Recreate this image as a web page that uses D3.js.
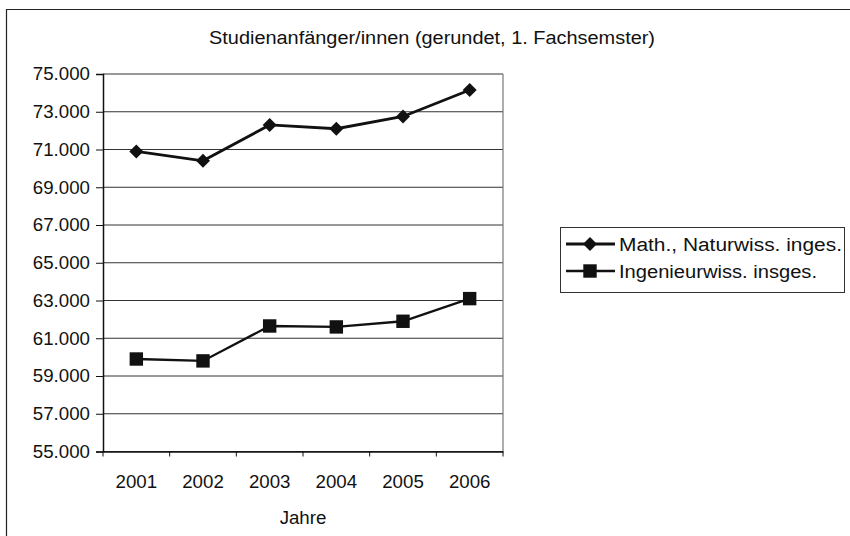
<!DOCTYPE html>
<html lang="de">
<head>
<meta charset="utf-8">
<title>Studienanfänger/innen</title>
<script src="https://cdn.jsdelivr.net/npm/d3@7"></script>
<style>
  body { margin: 0; background: #fff; }
  text { font-family: "Liberation Sans", Arial, sans-serif; fill: #111; }
</style>
</head>
<body>
<script>
// data
var years = ["2001", "2002", "2003", "2004", "2005", "2006"];
var mathNat = [70900, 70400, 72300, 72100, 72750, 74150];
var ingenieur = [59900, 59800, 61650, 61600, 61900, 63100];
var seriesNames = ["Math., Naturwiss. inges.", "Ingenieurwiss. insges."];
var yTicks = [55000, 57000, 59000, 61000, 63000, 65000, 67000, 69000, 71000, 73000, 75000];

var width = 850, height = 536;
var plot = { left: 103, right: 503, top: 74, bottom: 451.5 };
var fontSize = "18.7px";

var svg = d3.select("body").append("svg")
    .attr("width", width)
    .attr("height", height);

svg.append("rect")
    .attr("width", width).attr("height", height)
    .attr("fill", "#fff");

// outer frame (runs off the right and bottom edges)
svg.append("path")
    .attr("d", "M6.5," + (height + 2) + "V9.5H" + (width + 2))
    .attr("fill", "none")
    .attr("stroke", "#222")
    .attr("stroke-width", 1.2);

svg.append("text")
    .attr("x", 432)
    .attr("y", 44)
    .attr("text-anchor", "middle")
    .attr("textLength", 446)
    .attr("lengthAdjust", "spacingAndGlyphs")
    .style("font-size", "18px")
    .text("Studienanfänger/innen (gerundet, 1. Fachsemster)");

var x = d3.scaleBand().domain(years).range([plot.left, plot.right]);
var y = d3.scaleLinear().domain([55000, 75000]).range([plot.bottom, plot.top]);

var fmt = function(d) { return d3.format(",.3f")(d / 1000).replace(",", ""); };

// gridlines
svg.append("g")
    .selectAll("line")
    .data(yTicks)
    .enter().append("line")
    .attr("x1", plot.left).attr("x2", plot.right)
    .attr("y1", function(d) { return y(d); })
    .attr("y2", function(d) { return y(d); })
    .attr("stroke", "#333")
    .attr("stroke-width", 1);

// plot border right
svg.append("line")
    .attr("x1", plot.right).attr("x2", plot.right)
    .attr("y1", plot.top).attr("y2", plot.bottom)
    .attr("stroke", "#777")
    .attr("stroke-width", 1.2);

// y axis
var yAxis = svg.append("g")
    .attr("transform", "translate(" + plot.left + ",0)")
    .call(d3.axisLeft(y).tickValues(yTicks).tickSize(7).tickPadding(6)
        .tickFormat(function(d) { return fmt(d); }));
yAxis.select(".domain").attr("stroke", "#111").attr("stroke-width", 1.5);
yAxis.selectAll(".tick line").attr("stroke", "#111");
yAxis.selectAll("text")
    .style("font-size", fontSize)
    .style("font-family", "'Liberation Sans', Arial, sans-serif")
    .attr("fill", "#111");

// x axis
var xAxis = svg.append("g")
    .attr("transform", "translate(0," + plot.bottom + ")")
    .call(d3.axisBottom(x).tickSize(0).tickPadding(23.5));
xAxis.select(".domain").attr("stroke", "#111").attr("stroke-width", 1.5);
xAxis.selectAll("text")
    .style("font-size", fontSize)
    .style("font-family", "'Liberation Sans', Arial, sans-serif")
    .attr("fill", "#111");

// x boundary ticks
svg.append("g")
    .selectAll("line")
    .data(years.concat(["end"]))
    .enter().append("line")
    .attr("x1", function(d, i) { return plot.left + i * x.step(); })
    .attr("x2", function(d, i) { return plot.left + i * x.step(); })
    .attr("y1", plot.bottom)
    .attr("y2", plot.bottom + 5)
    .attr("stroke", "#111");

svg.append("text")
    .attr("x", 303)
    .attr("y", 524)
    .attr("text-anchor", "middle")
    .style("font-size", fontSize)
    .text("Jahre");

// series
var line = d3.line()
    .x(function(d, i) { return x(years[i]) + x.bandwidth() / 2; })
    .y(function(d) { return y(d); });

var diamond = d3.symbol().type(d3.symbolDiamond2).size(125);
var square = d3.symbol().type(d3.symbolSquare).size(180);

function drawSeries(values, sym, lw) {
    svg.append("path")
        .datum(values)
        .attr("d", line)
        .attr("fill", "none")
        .attr("stroke", "#111")
        .attr("stroke-width", lw);
    svg.append("g")
        .selectAll("path")
        .data(values)
        .enter().append("path")
        .attr("d", sym)
        .attr("transform", function(d, i) {
            return "translate(" + (x(years[i]) + x.bandwidth() / 2) + "," + y(d) + ")";
        })
        .attr("fill", "#111");
}

drawSeries(mathNat, diamond, 2.8);
drawSeries(ingenieur, square, 2.3);

// legend
var legend = svg.append("g");
legend.append("rect")
    .attr("x", 560.5).attr("y", 227.5)
    .attr("width", 284).attr("height", 65)
    .attr("fill", "#fff")
    .attr("stroke", "#333")
    .attr("stroke-width", 1);

var legendRows = [
    { name: seriesNames[0], sym: diamond, lw: 2.8, yy: 244, len: 223 },
    { name: seriesNames[1], sym: square, lw: 2.3, yy: 271, len: 198 }
];
legendRows.forEach(function(r) {
    legend.append("line")
        .attr("x1", 566).attr("x2", 615)
        .attr("y1", r.yy).attr("y2", r.yy)
        .attr("stroke", "#111")
        .attr("stroke-width", r.lw);
    legend.append("path")
        .attr("d", r.sym)
        .attr("transform", "translate(590," + r.yy + ")")
        .attr("fill", "#111");
    legend.append("text")
        .attr("x", 619)
        .attr("y", r.yy + 7)
        .attr("textLength", r.len)
        .attr("lengthAdjust", "spacingAndGlyphs")
        .style("font-size", "18px")
        .text(r.name);
});
</script>
</body>
</html>
